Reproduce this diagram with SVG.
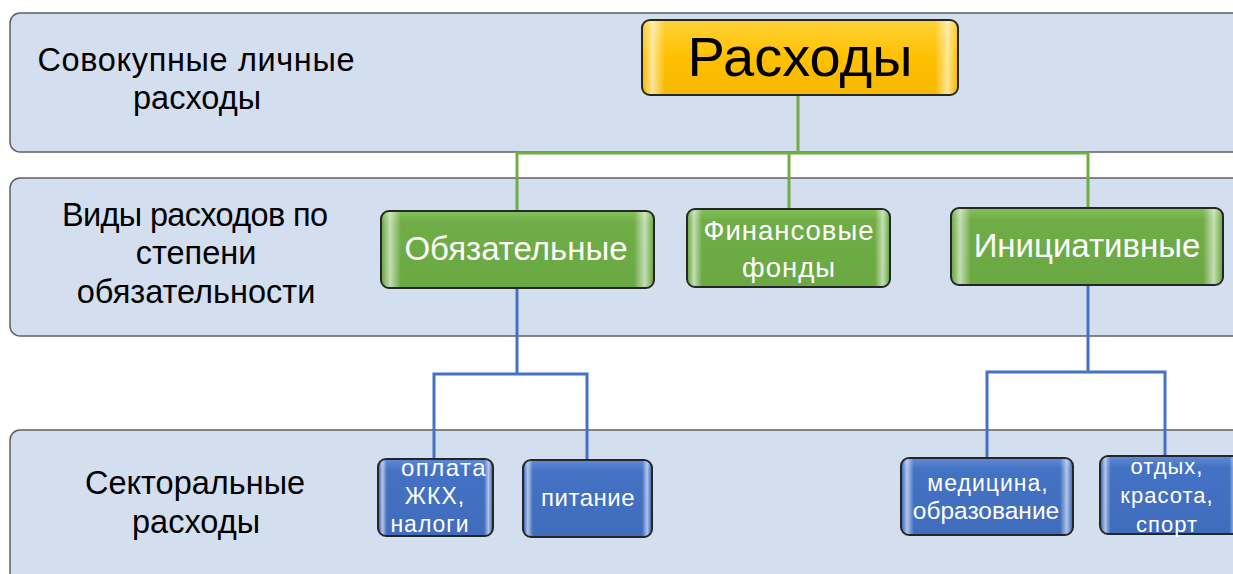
<svg xmlns="http://www.w3.org/2000/svg" width="1233" height="574" viewBox="0 0 1233 574">
<defs>
<linearGradient id="gold" x1="0" y1="0" x2="0" y2="1">
<stop offset="0" stop-color="#ffd23a"/><stop offset="0.5" stop-color="#ffc000"/><stop offset="1" stop-color="#f5b800"/>
</linearGradient>
<linearGradient id="green" x1="0" y1="0" x2="0" y2="1">
<stop offset="0" stop-color="#86c05e"/><stop offset="0.15" stop-color="#70ad47"/><stop offset="1" stop-color="#6aa843"/>
</linearGradient>
<linearGradient id="blue" x1="0" y1="0" x2="0" y2="1">
<stop offset="0" stop-color="#5f8ad6"/><stop offset="0.15" stop-color="#4472c4"/><stop offset="1" stop-color="#406cbc"/>
</linearGradient>
<linearGradient id="bevel" x1="0" y1="0" x2="1" y2="0">
<stop offset="0" stop-color="#fff" stop-opacity="0"/>
<stop offset="0.03" stop-color="#fff" stop-opacity="0.6"/>
<stop offset="0.07" stop-color="#fff" stop-opacity="0"/>
<stop offset="0.93" stop-color="#fff" stop-opacity="0"/>
<stop offset="0.97" stop-color="#fff" stop-opacity="0.6"/>
<stop offset="1" stop-color="#fff" stop-opacity="0"/>
</linearGradient>
</defs>
<style>
.band{fill:#d3deef;stroke:#5f5f5f;stroke-width:1.5}
.lbl{font-family:"Liberation Sans",Arial,sans-serif;font-size:32.5px;fill:#000;text-anchor:middle}
.box{stroke:#262626;stroke-width:2}
.bev{fill:url(#bevel);stroke:none}
.wt{font-family:"Liberation Sans",Arial,sans-serif;fill:#fff;text-anchor:middle}
.gl{fill:none;stroke:#70ad47;stroke-width:3}
.bl{fill:none;stroke:#4472c4;stroke-width:3}
</style>
<g id="bands">
<rect class="band" x="10" y="13" width="1240" height="139" rx="10"/>
<rect class="band" x="10" y="178" width="1240" height="158" rx="10"/>
<rect class="band" x="10" y="430" width="1240" height="160" rx="10"/>
</g>
<g id="band-labels">
<text class="lbl" x="196" y="71" textLength="317" lengthAdjust="spacing">Совокупные  личные</text>
<text class="lbl" x="197" y="109">расходы</text>
<text class="lbl" x="195" y="226" textLength="266" lengthAdjust="spacing">Виды расходов по</text>
<text class="lbl" x="196" y="264">степени</text>
<text class="lbl" x="196" y="303">обязательности</text>
<text class="lbl" x="195" y="494">Секторальные</text>
<text class="lbl" x="196" y="533">расходы</text>
</g>
<g id="connectors">
<path class="gl" d="M798 95 V153 M517 211 V153 H1088 V208 M789 153 V209"/>
<path class="bl" d="M517 288 V374 M434 459 V374 H587 V460"/>
<path class="bl" d="M1088 285 V372 M987 458 V372 H1165 V456"/>
</g>
<g id="node-raskhody">
<rect class="box" x="642" y="20" width="316" height="75" rx="8" fill="url(#gold)"/>
<rect class="bev" x="643" y="21" width="314" height="73" rx="7"/>
<text x="800" y="76" font-family="'Liberation Sans',Arial,sans-serif" font-size="56" fill="#000" text-anchor="middle">Расходы</text>
</g>
<g id="node-obyazatelnye">
<rect class="box" x="381" y="211" width="273" height="77" rx="8" fill="url(#green)"/>
<rect class="bev" x="382" y="212" width="271" height="75" rx="7"/>
<text class="wt" x="516" y="260" font-size="33">Обязательные</text>
</g>
<g id="node-finansovye">
<rect class="box" x="687" y="209" width="203" height="78" rx="8" fill="url(#green)"/>
<rect class="bev" x="688" y="210" width="201" height="76" rx="7"/>
<text class="wt" x="789" y="240" font-size="27.5" letter-spacing="1">Финансовые</text>
<text class="wt" x="789" y="277" font-size="27.5" letter-spacing="1">фонды</text>
</g>
<g id="node-initsiativnye">
<rect class="box" x="951" y="208" width="272" height="77" rx="8" fill="url(#green)"/>
<rect class="bev" x="952" y="209" width="270" height="75" rx="7"/>
<text class="wt" x="1087" y="257" font-size="33">Инициативные</text>
</g>
<g id="node-oplata">
<rect class="box" x="378" y="459" width="115" height="77" rx="8" fill="url(#blue)"/>
<rect class="bev" x="379" y="460" width="113" height="75" rx="7"/>
<text class="wt" x="444" y="476" font-size="24" letter-spacing="1.5">оплата</text>
<text class="wt" x="435" y="504" font-size="23" letter-spacing="1">ЖКХ,</text>
<text class="wt" x="430" y="532" font-size="23" letter-spacing="1">налоги</text>
</g>
<g id="node-pitanie">
<rect class="box" x="523" y="460" width="129" height="77" rx="8" fill="url(#blue)"/>
<rect class="bev" x="524" y="461" width="127" height="75" rx="7"/>
<text class="wt" x="588" y="506" font-size="24" letter-spacing="0.5">питание</text>
</g>
<g id="node-meditsina">
<rect class="box" x="901" y="458" width="172" height="77" rx="8" fill="url(#blue)"/>
<rect class="bev" x="902" y="459" width="170" height="75" rx="7"/>
<text class="wt" x="988" y="491" font-size="23" letter-spacing="1">медицина,</text>
<text class="wt" x="986" y="519" font-size="24.5">образование</text>
</g>
<g id="node-otdykh">
<rect class="box" x="1100" y="456" width="140" height="78" rx="8" fill="url(#blue)"/>
<rect class="bev" x="1101" y="457" width="138" height="76" rx="7"/>
<text class="wt" x="1167" y="474" font-size="22" letter-spacing="1">отдых,</text>
<text class="wt" x="1167" y="503" font-size="22" letter-spacing="1">красота,</text>
<text class="wt" x="1167" y="532" font-size="22" letter-spacing="1">спорт</text>
</g>
</svg>
